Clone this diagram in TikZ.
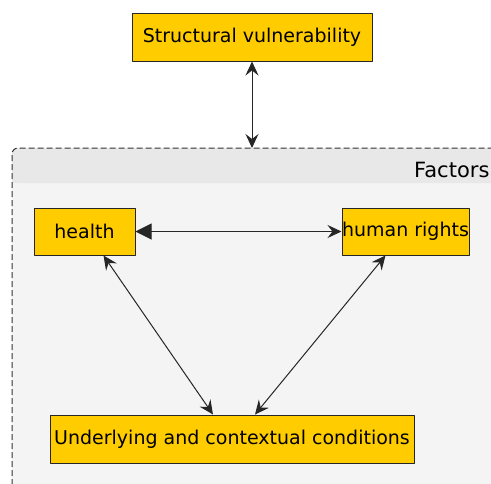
\documentclass[tikz,border=0pt]{standalone}
\usepackage{fontspec}
\setmainfont{DejaVu Sans}
\usetikzlibrary{arrows.meta,positioning}
\definecolor{boxyellow}{HTML}{FFCC00}
\definecolor{headgray}{HTML}{E8E8E8}
\definecolor{bodygray}{HTML}{F4F4F4}
\begin{document}
\begin{tikzpicture}[x=1pt,y=-1pt,line join=round,
	factorbox/.style={draw=black!85,fill=boxyellow,line width=1pt,inner sep=0pt,font=\fontsize{19}{21}\selectfont},
	link/.style={draw=black!85,line width=1pt,{Stealth[length=14pt,width=13pt,inset=5pt]}-{Stealth[length=14pt,width=13pt,inset=5pt]}}]
	\useasboundingbox (0,0) rectangle (491,483);
	\clip (0,0) rectangle (491,483);
	% group of factors
	\fill[bodygray,rounded corners=6pt] (12,148) rectangle (530,520);
	\fill[headgray,rounded corners=6pt] (12,148) rectangle (530,183);
	\fill[headgray] (12,170) rectangle (530,183);
	\draw[dash pattern=on 6pt off 3pt,black!80,line width=1pt,rounded corners=6pt] (12,530)--(12,148)--(530,148);
	\node[anchor=base west,inner sep=0pt,font=\fontsize{21}{23}\selectfont] (factors) at (414,177) {Factors};
	\coordinate (grouptop) at (252,148);
	% boxes
	\node[factorbox,minimum width=240pt,minimum height=48pt] (sv) at (252,37) {Structural vulnerability};
	\node[factorbox,minimum width=101pt,minimum height=47pt] (health) at (84.5,231.5) {health};
	\node[factorbox,minimum width=127pt,minimum height=47pt] (rights) at (405.5,231.5) {human rights};
	\node[factorbox,minimum width=364pt,minimum height=48pt] (under) at (232,439) {Underlying and contextual conditions};
	% links
	\draw[link] (sv) -- (grouptop);
	\draw[link,{Triangle[length=16pt,width=16pt]}-{Stealth[length=14pt,width=13pt,inset=5pt]}] (health) -- (rights);
	\draw[link] ([xshift=19pt]health.south) -- ([xshift=-19pt]under.north);
	\draw[link] ([xshift=-20pt]rights.south) -- ([xshift=23pt]under.north);
\end{tikzpicture}
\end{document}
